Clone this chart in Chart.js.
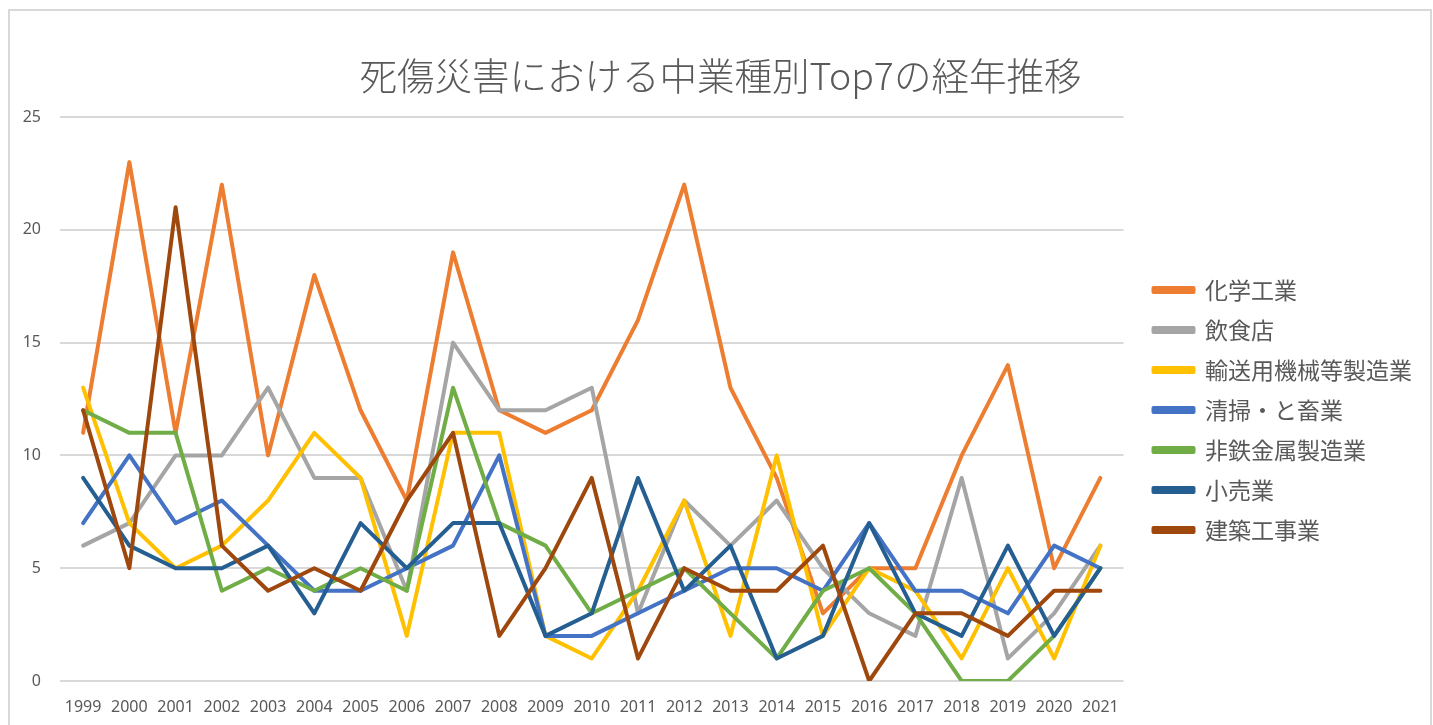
<!DOCTYPE html>
<html>
<head>
<meta charset="utf-8">
<title>死傷災害における中業種別Top7の経年推移</title>
<script src="https://cdn.jsdelivr.net/npm/chart.js@4.4.0/dist/chart.umd.min.js"></script>
<style>
  html, body { margin: 0; padding: 0; background: #fff; }
  #wrap { position: relative; width: 1433px; height: 725px; overflow: hidden; }
  #frame { position: absolute; left: 8px; top: 9px; width: 1420px; height: 800px; border: 2px solid #d9d9d9; pointer-events: none; }
  canvas { position: absolute; left: 0; top: 0; }
</style>
</head>
<body>
<div id="wrap">
  <canvas id="chart" width="1433" height="725"></canvas>
  <div id="frame"></div>
</div>
<script>
// data
const years = ["1999", "2000", "2001", "2002", "2003", "2004", "2005", "2006", "2007", "2008", "2009", "2010",
  "2011", "2012", "2013", "2014", "2015", "2016", "2017", "2018", "2019", "2020", "2021"]

const chemical = [11, 23, 11, 22, 10, 18, 12, 8, 19, 12, 11, 12, 16, 22, 13, 9, 3, 5, 5, 10, 14, 5, 9]
const restaurants = [6, 7, 10, 10, 13, 9, 9, 4, 15, 12, 12, 13, 3, 8, 6, 8, 5, 3, 2, 9, 1, 3, 6]
const transportMachinery = [13, 7, 5, 6, 8, 11, 9, 2, 11, 11, 2, 1, 4, 8, 2, 10, 2, 5, 4, 1, 5, 1, 6]
const cleaningSlaughter = [7, 10, 7, 8, 6, 4, 4, 5, 6, 10, 2, 2, 3, 4, 5, 5, 4, 7, 4, 4, 3, 6, 5]
const nonFerrous = [12, 11, 11, 4, 5, 4, 5, 4, 13, 7, 6, 3, 4, 5, 3, 1, 4, 5, 3, 0, 0, 2, 5]
const retail = [9, 6, 5, 5, 6, 3, 7, 5, 7, 7, 2, 3, 9, 4, 6, 1, 2, 7, 3, 2, 6, 2, 5]
const construction = [12, 5, 21, 6, 4, 5, 4, 8, 11, 2, 5, 9, 1, 5, 4, 4, 6, 0, 3, 3, 2, 4, 4]

const seriesNames = ["化学工業", "飲食店", "輸送用機械等製造業", "清掃・と畜業", "非鉄金属製造業", "小売業", "建築工事業"]
const seriesValues = [chemical, restaurants, transportMachinery, cleaningSlaughter, nonFerrous, retail, construction]
const seriesColors = ["#ED7D31", "#A5A5A5", "#FFC000", "#4472C4", "#70AD47", "#255E91", "#9E480E"]

const yTicks = [0, 5, 10, 15, 20, 25]

const textColor = "#595959"
const gridColor = "#d9d9d9"

// later series drawn on top, like the original
const datasets = seriesNames.map((name, i) => ({
  label: name,
  data: seriesValues[i],
  borderColor: seriesColors[i],
  backgroundColor: seriesColors[i],
  borderWidth: 4,
  pointRadius: 0,
  pointHoverRadius: 0,
  tension: 0,
  borderJoinStyle: "round",
  borderCapStyle: "round",
  order: seriesNames.length - i,
}))

// nudge the legend and title a bit
const boxShift = {
  id: "boxShift",
  afterLayout(chart) {
    const lg = chart.legend
    if (lg) {
      lg.left += 13
      lg.right += 13
      lg.top += 11
      lg.bottom += 11
    }
    const tb = chart.titleBlock
    if (tb) {
      tb.left += 11
      tb.right += 11
    }
  },
}

new Chart(document.getElementById("chart"), {
  type: "line",
  data: { labels: years, datasets: datasets },
  plugins: [boxShift],
  options: {
    responsive: false,
    animation: false,
    devicePixelRatio: 1,
    layout: { padding: { left: 10, right: 24, top: 0, bottom: 4 } },
    plugins: {
      tooltip: { enabled: false },
      title: {
        display: true,
        text: "死傷災害における中業種別Top7の経年推移",
        color: textColor,
        font: { family: "'Noto Sans CJK JP', sans-serif", size: 37.5, weight: 300 },
        padding: { top: 53, bottom: 19 },
      },
      legend: {
        position: "right",
        align: "center",
        fullSize: false,
        labels: {
          color: textColor,
          font: { family: "'Noto Sans CJK JP', sans-serif", size: 23 },
          boxWidth: 40,
          boxHeight: 4,
          padding: 17,
          sort: (a, b) => a.datasetIndex - b.datasetIndex,
        },
      },
    },
    scales: {
      x: {
        offset: true,
        afterFit(scale) { scale.height = 40 },
        grid: { display: false, drawTicks: false },
        border: { display: false },
        ticks: {
          color: textColor,
          font: { family: "'Noto Sans', sans-serif", size: 16 },
          padding: 17,
          maxRotation: 0,
          autoSkip: false,
        },
      },
      y: {
        min: 0,
        max: 25,
        afterFit(scale) { scale.width = 50 },
        afterBuildTicks(scale) { scale.ticks = yTicks.map(v => ({ value: v })) },
        grid: { color: gridColor, lineWidth: 2, drawTicks: false },
        border: { display: false },
        ticks: {
          color: textColor,
          font: { family: "'Noto Sans', sans-serif", size: 16 },
          padding: 19,
        },
      },
    },
  },
})
</script>
</body>
</html>
